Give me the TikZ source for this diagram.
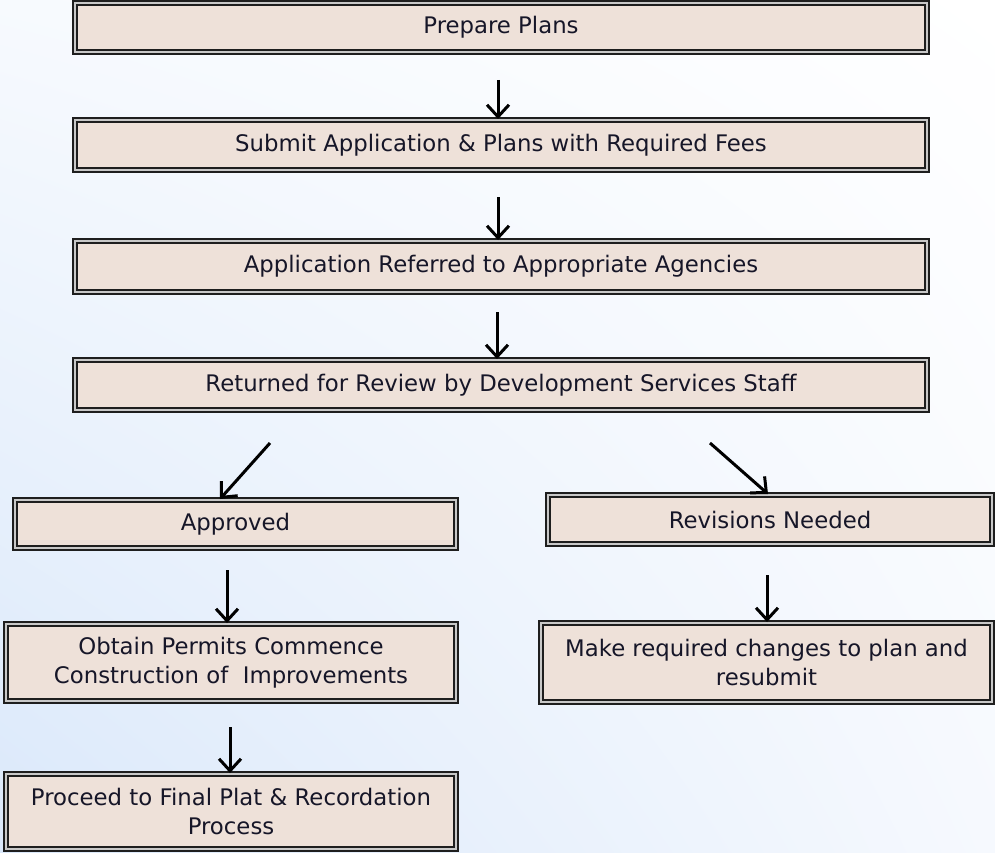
\documentclass[tikz,border=0pt]{standalone}
\usepackage{fontspec}
\setmainfont{DejaVu Sans}
\usetikzlibrary{arrows.meta,shadings}
\definecolor{boxfill}{RGB}{238,225,217}
\definecolor{boxline}{RGB}{30,30,30}
\definecolor{boxgap}{RGB}{200,200,200}
\definecolor{txt}{RGB}{22,22,40}
\definecolor{bgA}{RGB}{247,250,254}
\definecolor{bgB}{RGB}{255,255,255}
\definecolor{bgC}{RGB}{218,232,250}
\definecolor{bgD}{RGB}{246,249,254}
\tikzset{
  flowbox/.style={draw=boxline, double=boxgap, double distance=2.2pt, line width=2pt,
    fill=boxfill, inner sep=0pt, text=txt, align=center,
    font=\fontsize{22.8}{28.5}\selectfont},
  arr/.style={line width=3pt, black, -{Straight Barb[length=12pt,width=22pt]}}
}
\begin{document}
\begin{tikzpicture}[x=1pt,y=-1pt]
\useasboundingbox (0,0) rectangle (995,853);
\shade[upper left=bgA, upper right=bgB, lower left=bgC, lower right=bgD] (0,0) rectangle (995,853);

\node[flowbox, minimum width=852pt, minimum height=49pt] (p1) at (501,27.5) {Prepare Plans};
\node[flowbox, minimum width=852pt, minimum height=50pt] (p2) at (501,145) {Submit Application \& Plans with Required Fees};
\node[flowbox, minimum width=852pt, minimum height=51pt] (p3) at (501,266.5) {Application Referred to Appropriate Agencies};
\node[flowbox, minimum width=852pt, minimum height=50pt] (p4) at (501,385) {Returned for Review by Development Services Staff};
\node[flowbox, minimum width=441pt, minimum height=48pt] (ap) at (235.5,524) {Approved};
\node[flowbox, minimum width=444pt, minimum height=49pt] (rv) at (770,519.5) {Revisions Needed};
\node[flowbox, minimum width=450pt, minimum height=77pt] (ob) at (231,662.5) {Obtain Permits Commence\\Construction of~~Improvements};
\node[flowbox, minimum width=451pt, minimum height=79pt] (mk) at (766.5,662.5) {Make required changes to plan and\\resubmit};
\node[flowbox, minimum width=450pt, minimum height=75pt] (pr) at (231,811.5) {Proceed to Final Plat \& Recordation\\Process};

\coordinate (s1) at (498,80);
\coordinate (s2) at (498,197);
\coordinate (s3) at (497,312);
\coordinate (s4) at (270,443);
\coordinate (s5) at (710,443);
\coordinate (s6) at (227,570);
\coordinate (s7) at (767,575);
\coordinate (s8) at (230,727);

\draw[arr] (s1) -- (s1 |- p2.north);
\draw[arr] (s2) -- (s2 |- p3.north);
\draw[arr] (s3) -- (s3 |- p4.north);
\draw[arr] (s4) -- ([xshift=-15.5pt]ap.north);
\draw[arr] (s5) -- ([xshift=-2pt]rv.north);
\draw[arr] (s6) -- (s6 |- ob.north);
\draw[arr] (s7) -- (s7 |- mk.north);
\draw[arr] (s8) -- (s8 |- pr.north);
\end{tikzpicture}
\end{document}
